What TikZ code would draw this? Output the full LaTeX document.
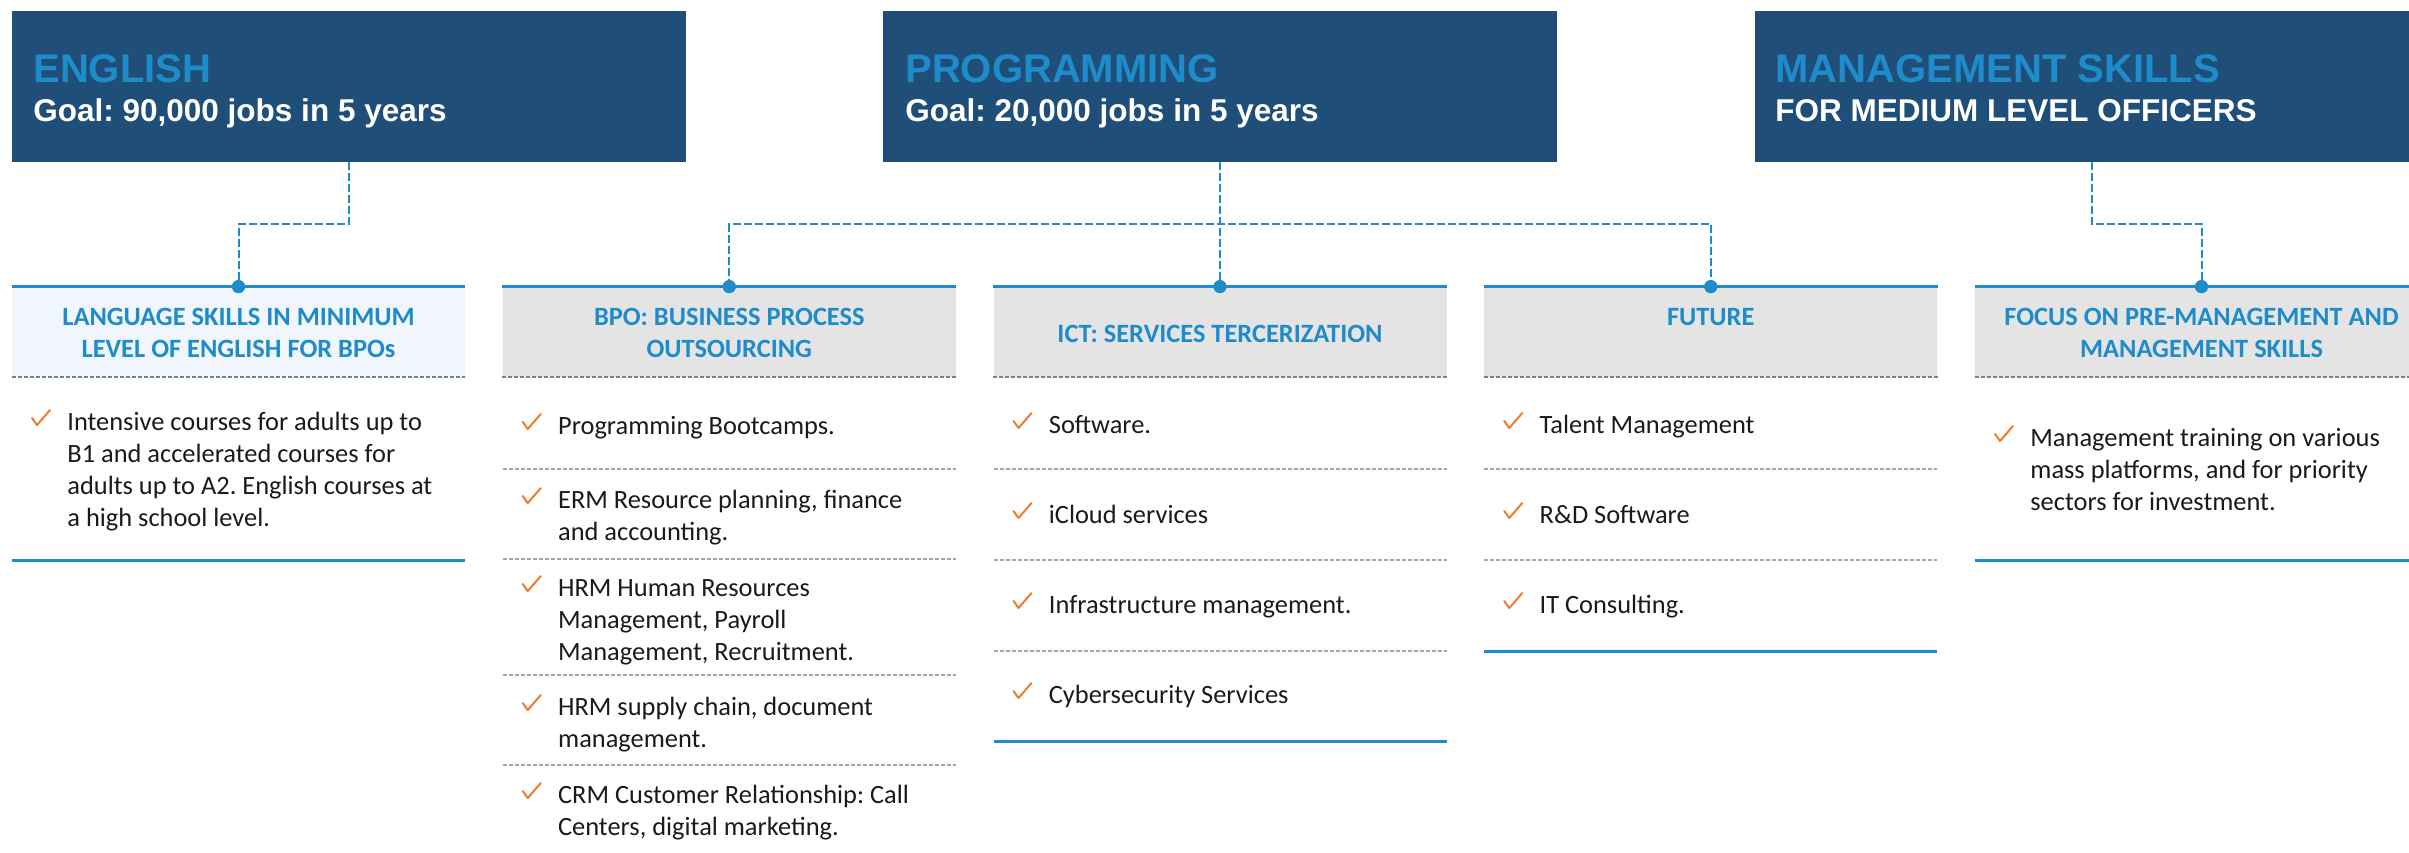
\documentclass[tikz,border=0pt]{standalone}
\usepackage{fontspec}
\setmainfont{Carlito}
\newfontfamily\hdrfont{Liberation Sans}
\frenchspacing
\definecolor{hdrblue}{HTML}{1F4E79}
\definecolor{accent}{HTML}{1E8BCB}
\definecolor{lightfill}{HTML}{F0F6FB}
\definecolor{grayfill}{HTML}{E4E4E4}
\definecolor{chk}{HTML}{ED7D31}
\definecolor{txt}{HTML}{1A1A1A}
\definecolor{sepdark}{HTML}{808080}
\definecolor{seplight}{HTML}{A6A6A6}
\newcommand{\topstrt}{\rule{0pt}{10pt}}
\newcommand{\chkat}[2]{\draw[chkmark] (#1+20,#2-12) -- (#1+25,#2-5) -- (#1+38,#2-20);}
\newcommand{\itm}[4]{\chkat{#2}{#3}\node[itemtxt] (#1) at (#2+55,#3-20) {\topstrt #4};}
\begin{document}
\begin{tikzpicture}[x=0.5pt,y=-0.5pt,
  hdr/.style={fill=hdrblue, draw=none, minimum width=337pt, minimum height=75.5pt, inner sep=0},
  ttl/.style={anchor=base west, inner sep=0, font=\hdrfont\bfseries\fontsize{20}{24}\selectfont, text=accent},
  sub/.style={anchor=base west, inner sep=0, font=\hdrfont\bfseries\fontsize{15.75}{19}\selectfont, text=white},
  conn/.style={accent, line width=1pt, dash pattern=on 4pt off 1.5pt},
  dot/.style={circle, fill=accent, inner sep=0, minimum size=6.5pt},
  headbox/.style={draw=none, minimum width=226.5pt, minimum height=45pt, inner sep=0},
  headtxt/.style={anchor=north, inner sep=0, align=center, font=\bfseries\fontsize{13.2}{16}\selectfont, text=accent},
  itemtxt/.style={anchor=north west, inner sep=0, align=left, font=\fontsize{13.2}{16}\selectfont, text=txt},
  topline/.style={accent, line width=1.5pt},
  botline/.style={accent, line width=1.5pt},
  headsep/.style={sepdark, line width=1pt, dash pattern=on 2pt off 1pt},
  itemsep/.style={seplight, line width=0.6pt, dash pattern=on 2pt off 1pt},
  chkmark/.style={chk, line width=1pt, line cap=round, line join=round},
]
\useasboundingbox (0,0) rectangle (2409,852);
\clip (0,0) rectangle (2409,852);
\fill[white] (0,0) rectangle (2409,852);

% header boxes
\node[hdr] (eng) at (349,86.5) {};
\node[hdr] (prog) at (1220,86.5) {};
\node[hdr] (mgmt) at (2091.5,86.5) {};
\node[ttl] (engT) at (33,82) {ENGLISH};
\node[sub] (engS) at (33,121) {Goal: 90,000 jobs in 5 years};
\node[ttl] (progT) at (905,82) {PROGRAMMING};
\node[sub] (progS) at (905,121) {Goal: 20,000 jobs in 5 years};
\node[ttl] (mgmtT) at (1775,82) {MANAGEMENT SKILLS};
\node[sub] (mgmtS) at (1775,121) {FOR MEDIUM LEVEL OFFICERS};

% panel headings
\node[headbox, fill=lightfill] (hb1) at (238.5,332) {};
\node[headbox, fill=grayfill] (hb2) at (729.25,332) {};
\node[headbox, fill=grayfill] (hb3) at (1220,332) {};
\node[headbox, fill=grayfill] (hb4) at (1710.75,332) {};
\node[headbox, fill=grayfill] (hb5) at (2201.5,332) {};
\foreach \h in {hb1,hb2,hb3,hb4,hb5}{
  \draw[topline] (\h.north west) -- (\h.north east);
  \draw[headsep] (\h.south west) -- (\h.south east);
}
\node[headtxt] (t1) at (238.5,305) {\topstrt LANGUAGE SKILLS IN MINIMUM\\LEVEL OF ENGLISH FOR BPOs};
\node[headtxt] (t2) at (729.25,305) {\topstrt BPO: BUSINESS PROCESS\\OUTSOURCING};
\node[headtxt] (t3) at (1220,322) {\topstrt ICT: SERVICES TERCERIZATION};
\node[headtxt] (t4) at (1710.75,305) {\topstrt FUTURE};
\node[headtxt] (t5) at (2201.5,305) {\topstrt FOCUS ON PRE-MANAGEMENT AND\\MANAGEMENT SKILLS};

% connectors
\coordinate (mid) at (0,224);
\node[dot] (d1) at (hb1.north) {};
\node[dot] (d2) at (hb2.north) {};
\node[dot] (d3) at (hb3.north) {};
\node[dot] (d4) at (hb4.north) {};
\node[dot] (d5) at (hb5.north) {};
\draw[conn] (eng.south) -- (eng.south |- mid) -| (d1.center);
\draw[conn] (prog.south) -- (d3.center);
\draw[conn] (d2.center) |- (prog.south |- mid) -| (d4.center);
\draw[conn] (mgmt.south) -- (mgmt.south |- mid) -| (d5.center);
\foreach \d in {d1,d2,d3,d4,d5}{\node[dot] at (\d) {};}

% English panel
\itm{e1}{12}{430}{Intensive courses for adults up to\\B1 and accelerated courses for\\adults up to A2. English courses at\\a high school level.}
\draw[botline] (12,560) -- ++(453,0);

% BPO panel
\itm{b1}{502.75}{434}{Programming Bootcamps.}
\draw[itemsep] (502.75,469) -- ++(453,0);
\itm{b2}{502.75}{508}{ERM Resource planning, finance\\and accounting.}
\draw[itemsep] (502.75,559) -- ++(453,0);
\itm{b3}{502.75}{596}{HRM Human Resources\\Management, Payroll\\Management, Recruitment.}
\draw[itemsep] (502.75,675) -- ++(453,0);
\itm{b4}{502.75}{715}{HRM supply chain, document\\management.}
\draw[itemsep] (502.75,765) -- ++(453,0);
\itm{b5}{502.75}{803}{CRM Customer Relationship: Call\\Centers, digital marketing.}

% ICT panel
\itm{c1}{993.5}{433}{Software.}
\draw[itemsep] (993.5,469) -- ++(453,0);
\itm{c2}{993.5}{523}{iCloud services}
\draw[itemsep] (993.5,560) -- ++(453,0);
\itm{c3}{993.5}{613}{Infrastructure management.}
\draw[itemsep] (993.5,651) -- ++(453,0);
\itm{c4}{993.5}{703}{Cybersecurity Services}
\draw[botline] (993.5,741) -- ++(453,0);

% FUTURE panel
\itm{f1}{1484.25}{433}{Talent Management}
\draw[itemsep] (1484.25,469) -- ++(453,0);
\itm{f2}{1484.25}{523}{R\&D Software}
\draw[itemsep] (1484.25,560) -- ++(453,0);
\itm{f3}{1484.25}{613}{IT Consulting.}
\draw[botline] (1484.25,651) -- ++(453,0);

% FOCUS panel
\itm{m1}{1975}{446}{Management training on various\\mass platforms, and for priority\\sectors for investment.}
\draw[botline] (1975,560) -- ++(453,0);
\end{tikzpicture}
\end{document}
